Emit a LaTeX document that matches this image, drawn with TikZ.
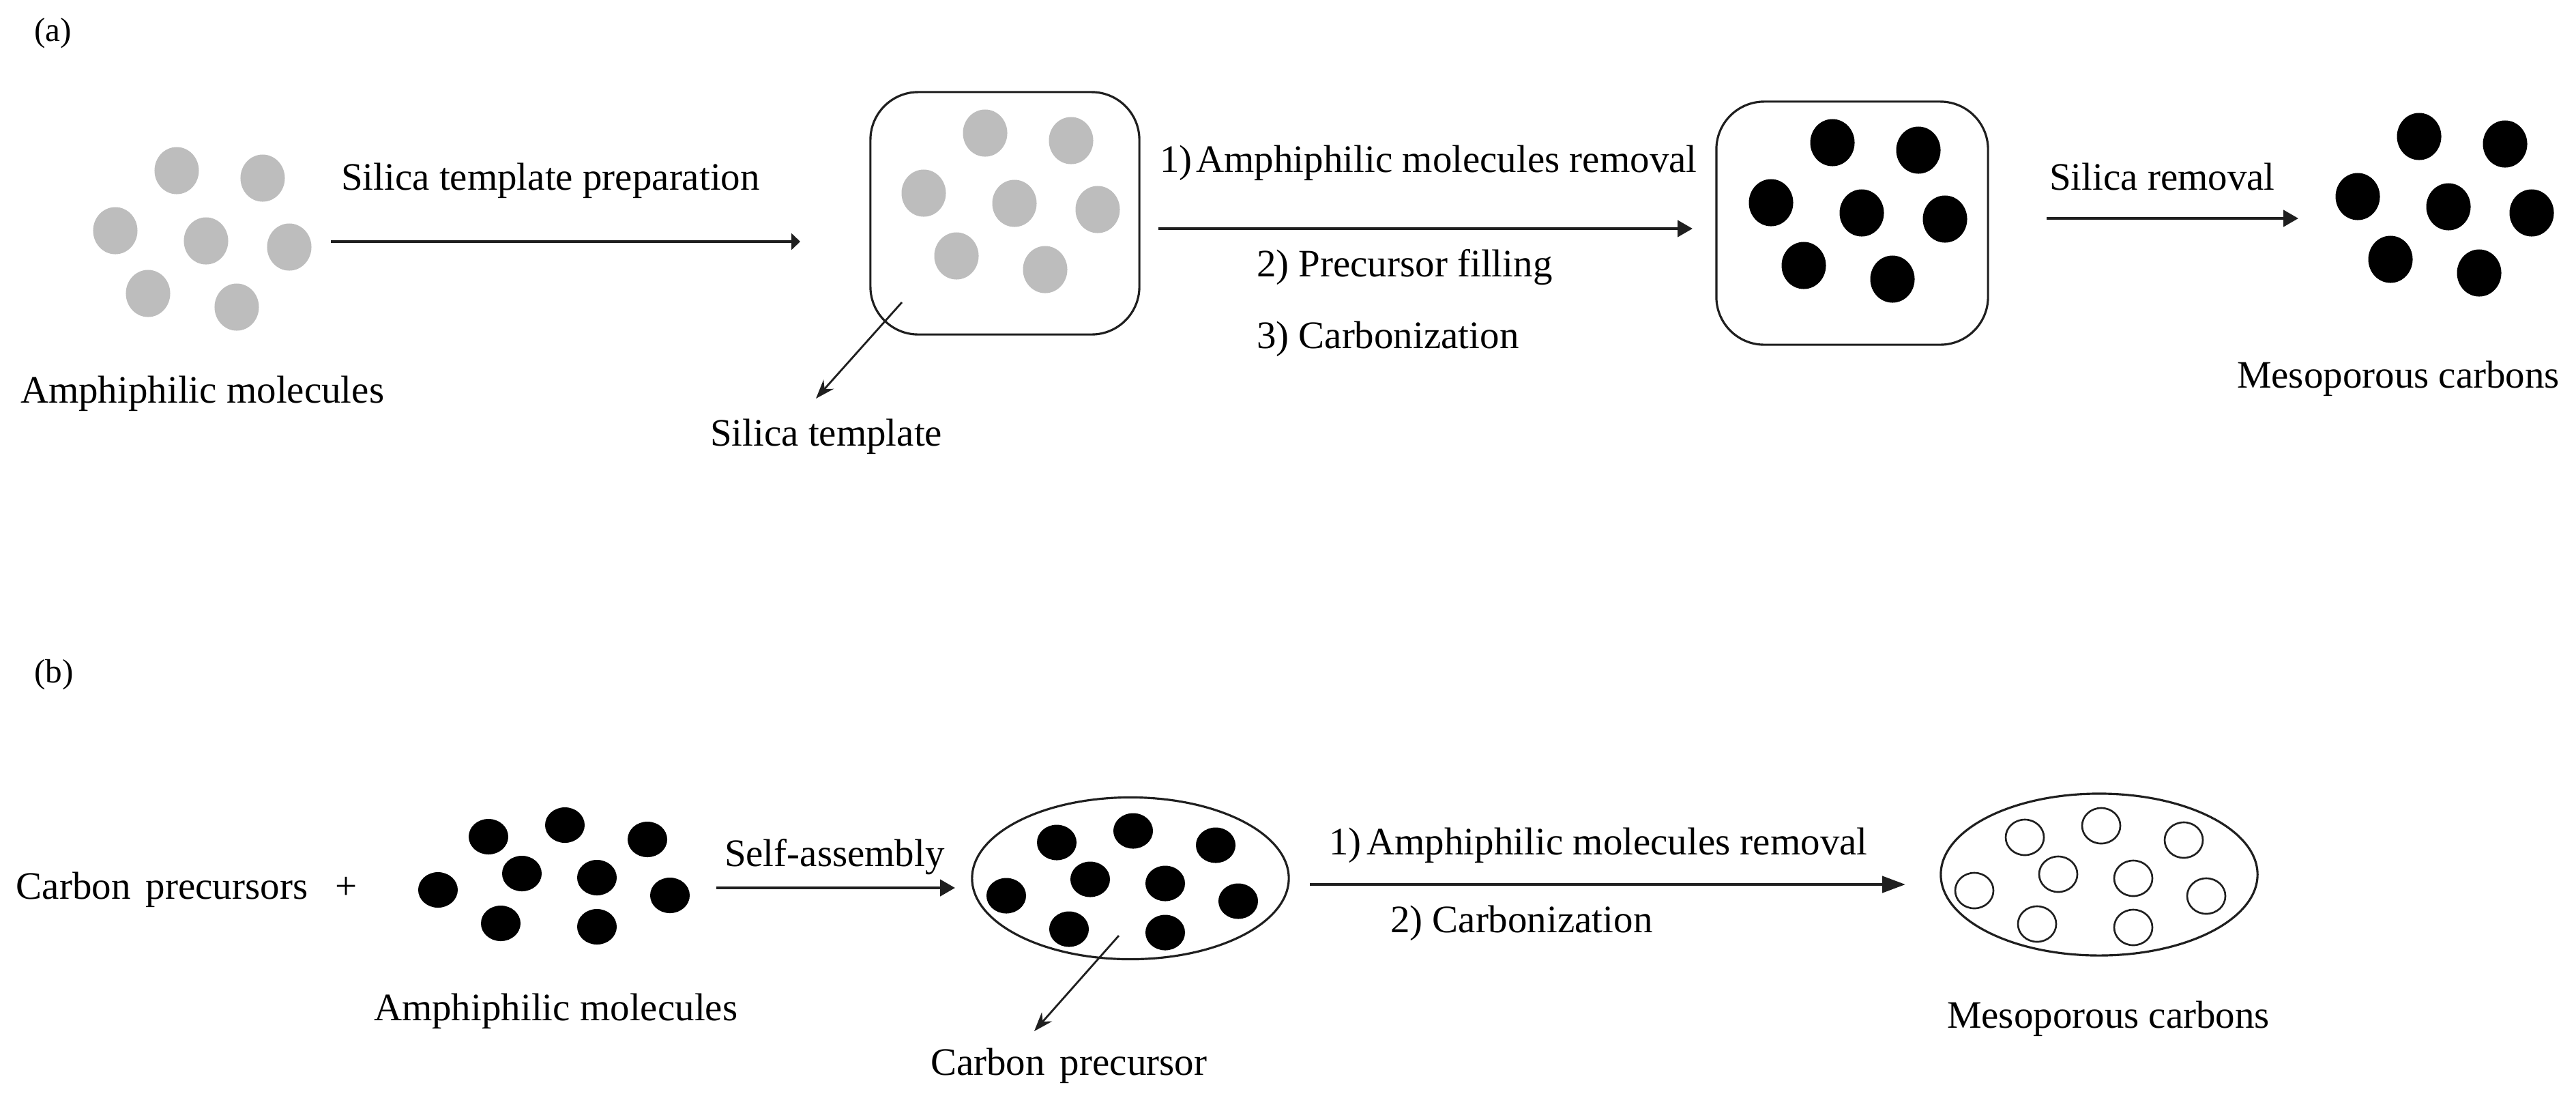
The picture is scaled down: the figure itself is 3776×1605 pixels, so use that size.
\documentclass[tikz,border=0pt]{standalone}
\usepackage{fontspec}
\setmainfont{Liberation Serif}
\usetikzlibrary{arrows.meta,shapes.geometric}
\definecolor{dotgray}{HTML}{BDBDBD}
\definecolor{inkline}{HTML}{1F1F1F}
\tikzset{
  lbl/.style={anchor=base west,inner sep=0pt,outer sep=0pt,text=black,font=\fontsize{16.2}{18}\selectfont},
  tag/.style={anchor=base west,inner sep=0pt,outer sep=0pt,text=black,font=\fontsize{14}{16}\selectfont},
  oval/.style={ellipse,inner sep=0pt,outer sep=0pt},
  dotgrey/.style={oval,fill=dotgray,minimum width=0.65cm,minimum height=0.69cm},
  dotblack/.style={oval,fill=black,minimum width=0.65cm,minimum height=0.69cm},
  blobblack/.style={oval,fill=black,minimum width=0.58cm,minimum height=0.52cm},
  blobopen/.style={oval,draw=inkline,line width=0.75pt,fill=white,minimum width=0.56cm,minimum height=0.52cm},
  roundbox/.style={draw=inkline,line width=0.9pt,rounded corners=0.7cm,inner sep=0pt,outer sep=0pt},
  bigoval/.style={oval,draw=inkline,line width=0.9pt,minimum width=4.64cm,minimum height=2.37cm},
  mainarrow/.style={draw=inkline,line width=1.25pt,-{Triangle[length=#1,width=0.24cm]}},
  mainarrow/.default=0.2cm,
  leader/.style={draw=inkline,line width=0.8pt,-{Stealth[length=0.28cm,width=0.2cm]}}
}
\newcommand{\clusterseven}[4]{%
  \foreach \n/\x/\y in {1/259/250,2/385/261,3/169/338,4/302/353,5/424/362,6/217/430,7/347/450}
    \node[#4] (#1\n) at (\x+#2,\y+#3) {};
}
\newcommand{\clusternine}[4]{%
  \foreach \n/\x/\y in {1/716/1226,2/828/1209,3/949/1230,4/765/1280,5/875/1286,6/642/1304,7/982/1312,8/734/1353,9/875/1358}
    \node[#4] (#1\n) at (\x+#2,\y+#3) {};
}
\begin{document}
\begin{tikzpicture}[x=0.01cm,y=-0.01cm]
\useasboundingbox (0,0) rectangle (3776,1605);
\fill[white] (0,0) rectangle (3776,1605);

% ---------- panel (a) ----------
\node[tag] (taga) at (50,60) {(a)};
\clusterseven{amph}{0}{0}{dotgrey}
\node[roundbox,minimum width=3.94cm,minimum height=3.55cm] (silicabox) at (1473,312.5) {};
\clusterseven{sil}{1185}{-55}{dotgrey}
\node[roundbox,minimum width=3.98cm,minimum height=3.56cm] (filledbox) at (2715,327) {};
\clusterseven{fill}{2427}{-41}{dotblack}
\clusterseven{meso}{3287}{-50}{dotblack}

\node[lbl] (lamph) at (30,590) {Amphiphilic molecules};
\node[lbl] (lprep) at (500,278) {Silica template preparation};
\node[lbl] (lsil) at (1041,653) {Silica template};
\node[lbl] (lrem) at (1700,252) {1)\kern0.06cm Amphiphilic molecules removal};
\node[lbl] (lpre) at (1842,405) {2) Precursor filling};
\node[lbl] (lcar) at (1842,510) {3) Carbonization};
\node[lbl] (lsrem) at (3004,278) {Silica removal};
\node[lbl] (lmeso) at (3279,568) {Mesoporous carbons};

\coordinate (a1s) at (485,354);  \coordinate (a1e) at (1173,354);
\coordinate (a2s) at (1698,335); \coordinate (a2e) at (2481,335);
\coordinate (a3s) at (3000,320); \coordinate (a3e) at (3369,320);
\coordinate (a4s) at (1322,443); \coordinate (a4e) at (1196,584);
\draw[mainarrow=0.13cm] (a1s) -- (a1e);
\draw[mainarrow=0.22cm] (a2s) -- (a2e);
\draw[mainarrow=0.22cm] (a3s) -- (a3e);
\draw[leader] (a4s) -- (a4e);

% ---------- panel (b) ----------
\node[tag] (tagb) at (50,1000) {(b)};
\clusternine{bamph}{0}{0}{blobblack}
\node[bigoval] (micelle) at (1657,1287) {};
\clusternine{bin}{833}{8.5}{blobblack}
\node[bigoval] (porous) at (3077,1281.5) {};
\clusternine{bout}{2252}{1}{blobopen}

\node[lbl] (lcp) at (24,1317) {Carbon\kern0.08cm{} precursors};
\node[lbl] (lplus) at (491,1317) {+};
\node[lbl] (lbamph) at (548,1495) {Amphiphilic molecules};
\node[lbl] (lself) at (1062,1269) {Self-assembly};
\node[lbl] (lcpr) at (1364,1575) {Carbon\kern0.08cm{} precursor};
\node[lbl] (lbrem) at (1948,1252) {1)\kern0.08cm Amphiphilic molecules removal};
\node[lbl] (lbcar) at (2038,1366) {2) Carbonization};
\node[lbl] (lbmeso) at (2854,1506) {Mesoporous carbons};

\coordinate (b1s) at (1050,1301); \coordinate (b1e) at (1400,1301);
\coordinate (b2s) at (1920,1296); \coordinate (b2e) at (2793,1296);
\coordinate (b3s) at (1640,1371); \coordinate (b3e) at (1516,1511);
\draw[mainarrow=0.22cm] (b1s) -- (b1e);
\draw[mainarrow=0.34cm] (b2s) -- (b2e);
\draw[leader] (b3s) -- (b3e);
\end{tikzpicture}
\end{document}
